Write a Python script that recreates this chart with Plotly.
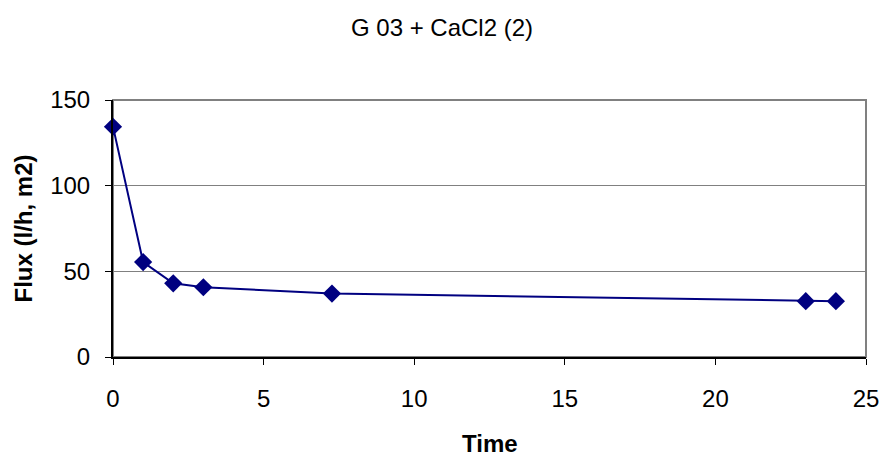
import plotly.graph_objects as go

time = [0, 1, 2, 3, 7.27, 23, 24]
flux = [134.4, 55.4, 43.0, 40.7, 37.0, 32.6, 32.6]
title_text = "G 03 + CaCl2 (2)"
x_title = "Time"
y_title = "Flux (l/h, m2)"

W, H = 882, 456
L, R, T = 113, 16, 100
B = H - 357
pw, ph = W - L - R, H - T - B

fig = go.Figure()
fig.add_trace(go.Scatter(
    x=time, y=flux, mode="lines+markers",
    line=dict(color="#000080", width=2),
    marker=dict(symbol="diamond", size=14, color="#000080"),
    showlegend=False, cliponaxis=False,
))

font = "Liberation Sans, Arial, sans-serif"
fs = 24
fig.update_layout(
    width=W, height=H,
    margin=dict(l=L, r=R, t=T, b=B),
    paper_bgcolor="white", plot_bgcolor="white",
    font=dict(family=font, size=fs, color="black"),
    title=dict(text=title_text, x=442 / W, xref="container", xanchor="center",
               y=1 - 28 / H, yref="container", yanchor="middle",
               font=dict(family=font, size=fs, color="black")),
    shapes=[dict(type="rect", xref="paper", yref="paper", x0=0, x1=1, y0=0, y1=1,
                 line=dict(color="#808080", width=2), fillcolor="rgba(0,0,0,0)", layer="below")],
    annotations=[
        dict(text="<b>" + x_title + "</b>", xref="paper", yref="paper",
             x=0.5, y=(357 - 443) / ph, xanchor="center", yanchor="middle",
             showarrow=False, font=dict(size=fs)),
        dict(text="<b>" + y_title + "</b>", xref="paper", yref="paper",
             x=(23 - L) / pw, y=0.5, xanchor="center", yanchor="middle",
             textangle=-90, showarrow=False, font=dict(size=fs)),
    ],
)
fig.update_xaxes(
    range=[0, 25], tickvals=[0, 5, 10, 15, 20, 25],
    showgrid=False, zeroline=False, automargin=False,
    showline=True, linecolor="black", linewidth=2,
    ticks="outside", ticklen=6, tickcolor="black", tickwidth=1,
    ticklabelstandoff=13, ticklabeloverflow="allow",
)
fig.update_yaxes(
    range=[0, 150], tickvals=[0, 50, 100, 150],
    showgrid=True, gridcolor="#808080", gridwidth=1, zeroline=False, automargin=False,
    showline=True, linecolor="black", linewidth=2,
    ticks="outside", ticklen=6, tickcolor="black", tickwidth=1,
    ticklabelstandoff=10,
)
fig.write_html(
    "out.html",
    config={"displayModeBar": False},
    post_script="document.body.style.margin='0';document.body.style.overflow='hidden';",
)
